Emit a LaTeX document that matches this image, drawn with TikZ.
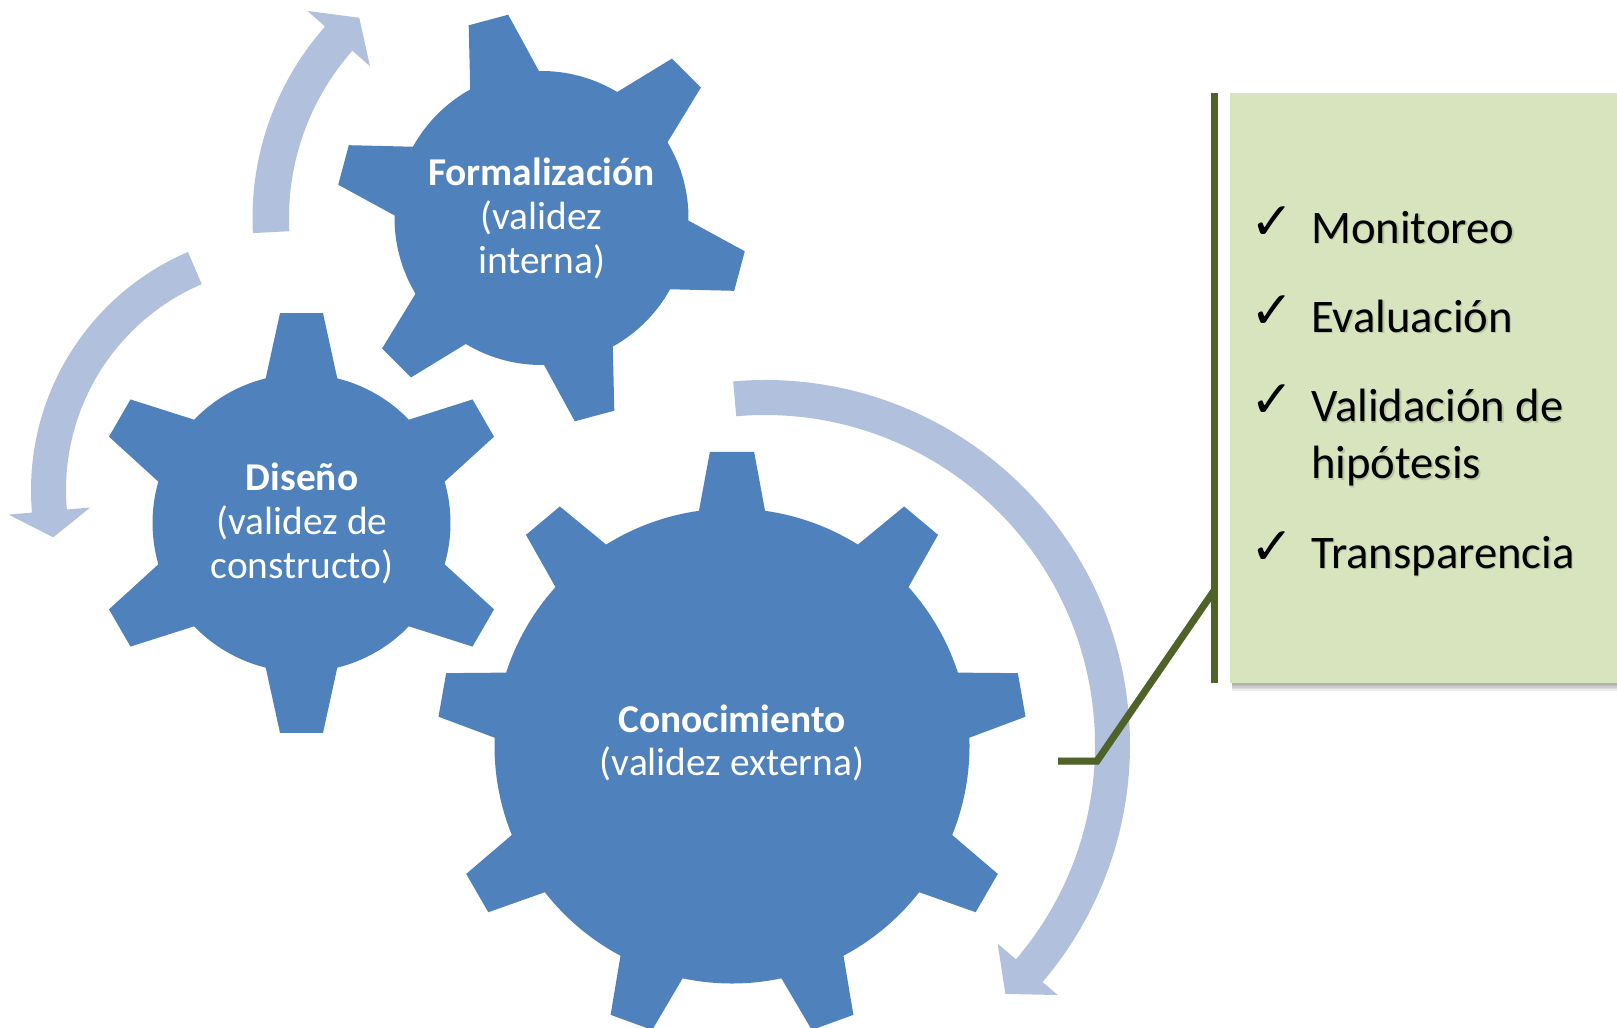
\documentclass[tikz,border=0pt]{standalone}
\usepackage{fontspec}
\setmainfont{Carlito}
\newfontfamily\symfont{DejaVu Sans}
\definecolor{gearblue}{HTML}{4F81BD}
\definecolor{arrowblue}{HTML}{B1C1DD}
\definecolor{boxgreen}{HTML}{D7E4BD}
\definecolor{olivegreen}{HTML}{4F6228}
% cx, cy, teeth, first tooth angle, body radius, tip radius, base half angle, tip half angle
\newcommand{\mygear}[8]{%
  \fill[gearfill, shift={(#1,#2)}] ({#4-#7}:#5)
    foreach \k in {1,...,#3} {
      -- ({#4+(\k-1)*360/#3-#8}:#6) -- ({#4+(\k-1)*360/#3+#8}:#6)
      -- ({#4+(\k-1)*360/#3+#7}:#5)
      arc[start angle={#4+(\k-1)*360/#3+#7}, end angle={#4+\k*360/#3-#7}, radius=#5]
    } -- cycle;
}
\begin{document}
\begin{tikzpicture}[x=1pt,y=1pt,
  gearfill/.style={fill=gearblue},
  arrowfill/.style={fill=arrowblue},
  geartitle/.style={text=white, font=\fontsize{39.4}{43}\selectfont\bfseries, inner sep=0pt, anchor=base},
  geartext/.style={text=white, font=\fontsize{39.4}{43}\selectfont, inner sep=0pt, anchor=base},
  itemtext/.style={text=black, font=\fontsize{46.7}{57}\selectfont, inner sep=0pt, anchor=base west},
  itemshadow/.style={itemtext, text=black, opacity=0.14},
  checkmark/.style={text=black, font=\symfont\fontsize{52}{52}\selectfont, inner sep=0pt, anchor=base west},
  oliveline/.style={draw=olivegreen, line width=7pt, miter limit=10},
  lineshadow/.style={draw=black, line width=7pt, opacity=0.18},
]
\useasboundingbox (0,0) rectangle (1617,-1028);
\clip (0,0) rectangle (1617,-1028);

% circular arrows
\fill[arrowfill, shift={(541.5,-218)}] (183:289) arc[start angle=183, end angle=138.5, radius=289]
  -- (138.5:312.5) -- (132.3:270.75) -- (138.5:229) -- (138.5:252.5)
  arc[start angle=138.5, end angle=183, radius=252.5] -- cycle;
\fill[arrowfill, shift={(290,-490)}] (113.2:259) arc[start angle=113.2, end angle=185, radius=259]
  -- (185:282.5) -- (191.3:241.5) -- (185:200.5) -- (185:224)
  arc[start angle=185, end angle=113.2, radius=224] -- cycle;
\fill[arrowfill, shift={(765,-745)}] (95:365) arc[start angle=95, end angle=-40.5, radius=365]
  -- (-40.5:385) -- (-46:346) -- (-40.5:306) -- (-40.5:330)
  arc[start angle=-40.5, end angle=95, radius=330] -- cycle;

% gears
\mygear{541.5}{-218}{6}{105}{147}{206}{14}{5.7}
\mygear{301.5}{-523}{6}{90}{149}{211}{13.9}{5.85}
\mygear{732}{-746}{9}{90}{237.5}{295}{8}{4.3}

% gear texts
\node[geartitle] (formal1) at (541.5,-185.5) {Formalización};
\node[geartext]  (formal2) at (541.5,-229.5) {(validez};
\node[geartext]  (formal3) at (541.5,-273.5) {interna)};
\node[geartitle] (dis1) at (302,-490) {Diseño};
\node[geartext]  (dis2) at (302,-534.3) {(validez de};
\node[geartext]  (dis3) at (302,-578.3) {constructo)};
\node[geartitle] (con1) at (732,-732) {Conocimiento};
\node[geartext]  (con2) at (732,-775.5) {(validez externa)};

% callout box with shadow
\foreach \s in {2,3.5,5,6.5,8}
  \fill[black, opacity=0.07] (1232,-93-\s) rectangle (1640,-682.7-\s);
\fill[boxgreen] (1230,-93) rectangle (1640,-682.7) coordinate (boxcorner);
\coordinate (bartop) at (1214.5,-93);
\coordinate (barbot) at (1214.5,-683);
\coordinate (barjoin) at (1214.5,-590);
\coordinate (knee) at (1097,-761);
\coordinate (calloutend) at (1058,-761);
\begin{scope}[shift={(2.5,-3)}]
  \draw[lineshadow] (bartop) -- (barbot);
  \draw[lineshadow] (barjoin) -- (knee) -- (calloutend);
\end{scope}
\draw[oliveline] (bartop) -- (barbot);
\draw[oliveline] (barjoin) -- (knee) -- (calloutend);

% list
\begin{scope}[shift={(1.4,-1.8)}]
  \node[itemshadow] (sh1) at (1311,-243) {Monitoreo};
  \node[itemshadow] (sh2) at (1311,-332) {Evaluación};
  \node[itemshadow] (sh3) at (1311,-421.5) {Validación de};
  \node[itemshadow] (sh3b) at (1311,-478.5) {hipótesis};
  \node[itemshadow] (sh4) at (1311,-568) {Transparencia};
\end{scope}
\node[checkmark] (ck1) at (1250,-239) {✓};
\node[checkmark] (ck2) at (1250,-328) {✓};
\node[checkmark] (ck3) at (1250,-417.5) {✓};
\node[checkmark] (ck4) at (1250,-564) {✓};
\node[itemtext] (it1) at (1311,-243) {Monitoreo};
\node[itemtext] (it2) at (1311,-332) {Evaluación};
\node[itemtext] (it3) at (1311,-421.5) {Validación de};
\node[itemtext] (it3b) at (1311,-478.5) {hipótesis};
\node[itemtext] (it4) at (1311,-568) {Transparencia};
\end{tikzpicture}
\end{document}
